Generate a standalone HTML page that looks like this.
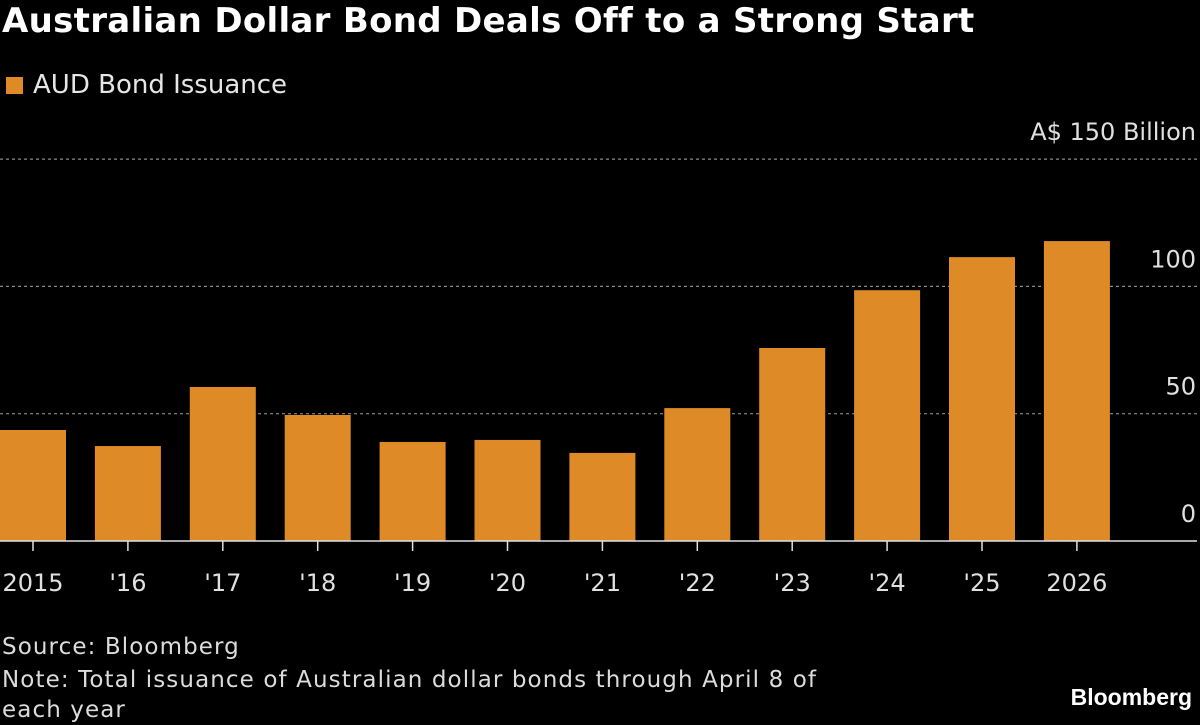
<!DOCTYPE html>
<html><head><meta charset="utf-8"><style>
html,body{margin:0;padding:0;background:#000;}
body{width:1200px;height:725px;overflow:hidden;position:relative;font-family:"DejaVu Sans","Liberation Sans",sans-serif;color:#fff;}
#title{position:absolute;left:2px;top:1px;font-size:34px;font-weight:bold;letter-spacing:0.3px;}
#legend{position:absolute;left:6px;top:70px;font-size:26px;color:#e6e6e6;}
#legend span.sw{display:inline-block;width:17px;height:17px;background:#de8b27;margin-right:10px;vertical-align:-1px;}
.foot{position:absolute;left:2px;font-size:23px;color:#dcdcdc;letter-spacing:1.1px;}
#brand{position:absolute;right:8px;top:684px;font-size:23px;font-weight:bold;font-family:"Liberation Sans",sans-serif;}
</style></head><body>
<div id="title">Australian Dollar Bond Deals Off to a Strong Start</div>
<div id="legend"><span class="sw"></span>AUD Bond Issuance</div>
<svg id="chart" width="1200" height="725" style="position:absolute;left:0;top:0"></svg>
<div class="foot" style="top:634px">Source: Bloomberg</div>
<div class="foot" style="top:665px;line-height:30px;width:900px">Note: Total issuance of Australian dollar bonds through April 8 of<br>each year</div>
<div id="brand">Bloomberg</div>
<script>
const categories = ["2015","'16","'17","'18","'19","'20","'21","'22","'23","'24","'25","2026"];
const values = [43.6,37.3,60.5,49.5,38.9,39.7,34.6,52.2,75.8,98.5,111.5,117.8];
const yTicks = [0,50,100,150];
const yTickLabels = ["0","50","100","A$ 150 Billion"];
const NS="http://www.w3.org/2000/svg";
const svg=document.getElementById('chart');
const y0=541, pxPer=127.3/50;
const yScale=v=>y0-v*pxPer;
const xScale=i=>33+i*94.9;
const barW=66;
function mk(tag,attrs){const e=document.createElementNS(NS,tag);for(const k in attrs)e.setAttribute(k,attrs[k]);svg.appendChild(e);return e;}
yTicks.forEach((t,i)=>{
  const y=yScale(t);
  if(t!==0){const g=mk('line',{x1:0,x2:1197,y1:y,y2:y,stroke:'#8a8a8a','stroke-width':1.2,'stroke-dasharray':'3,3'});
  
  }
  const tx=mk('text',{x:1196,y:y-19,'text-anchor':'end','font-size':24,fill:'#e0e0e0','font-family':'DejaVu Sans, Liberation Sans, sans-serif'});
  tx.textContent=yTickLabels[i];
  
  
});
values.forEach((v,i)=>{
  const cx=xScale(i);
  const r=mk('rect',{x:cx-barW/2,y:yScale(v),width:barW,height:y0-yScale(v),fill:'#de8b27'});
  
  
  const tk=mk('line',{x1:cx,x2:cx,y1:y0,y2:y0+10,stroke:'#e0e0e0','stroke-width':1.5});
  
  
  const lb=mk('text',{x:cx,y:591,'text-anchor':'middle','font-size':24,fill:'#e0e0e0','font-family':'DejaVu Sans, Liberation Sans, sans-serif'});
  lb.textContent=categories[i];
  
  
});
const ax=mk('line',{x1:0,x2:1197,y1:y0,y2:y0,stroke:'#e0e0e0','stroke-width':1.5});


</script>
</body></html>
